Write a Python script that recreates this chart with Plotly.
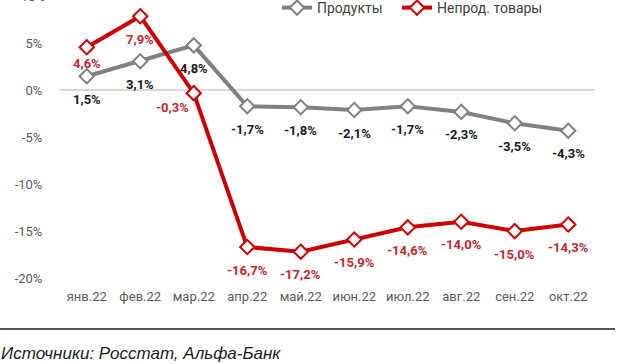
import plotly.graph_objects as go

categories = ["янв.22", "фев.22", "мар.22", "апр.22", "май.22", "июн.22", "июл.22", "авг.22", "сен.22", "окт.22"]
food = [1.5, 3.1, 4.8, -1.7, -1.8, -2.1, -1.7, -2.3, -3.5, -4.3]
nonfood = [4.6, 7.9, -0.3, -16.7, -17.2, -15.9, -14.6, -14.0, -15.0, -14.3]
tick_vals = [-20, -15, -10, -5, 0, 5]
tick_text = ["-20%", "-15%", "-10%", "-5%", "0%", "5%"]
series_names = ["Продукты", "Непрод. товары"]
source_text = "Источники: Росстат, Альфа-Банк"

W, H = 620, 364
ML, MR, MT, MB = 60, 25, 0, 86
PW, PH = W - ML - MR, H - MT - MB

def px_x(x):
    return (x - ML) / PW

def px_y(y):
    return (MT + PH - y) / PH

def fmt(v):
    return ("%.1f%%" % v).replace(".", ",")

GRAY = "#808080"
RED = "#cc0000"
FONT = "Roboto"

fig = go.Figure()
fig.add_trace(go.Scatter(
    x=categories, y=food, name=series_names[0], mode="lines+markers", legend="legend",
    line=dict(color=GRAY, width=4),
    marker=dict(symbol="diamond", size=11, color="white", line=dict(color=GRAY, width=2)),
))
fig.add_trace(go.Scatter(
    x=categories, y=nonfood, name=series_names[1], mode="lines+markers", legend="legend2",
    line=dict(color=RED, width=4),
    marker=dict(symbol="diamond", size=11, color="white", line=dict(color=RED, width=2)),
))

annotations = []
for c, v in zip(categories, food):
    annotations.append(dict(x=c, y=v, text="<b>%s</b>" % fmt(v), showarrow=False,
                            yshift=-23, font=dict(family=FONT, size=13, color="#1a1a1a")))
red_shift = {0: (0, -16), 2: (-21, -14)}
for i, (c, v) in enumerate(zip(categories, nonfood)):
    xs, ys = red_shift.get(i, (0, -23))
    annotations.append(dict(x=c, y=v, text="<b>%s</b>" % fmt(v), showarrow=False,
                            xshift=xs, yshift=ys, font=dict(family=FONT, size=13, color="#c0282d")))

# partially visible top tick label (cut by the top edge, as in the source image)
annotations.append(dict(xref="paper", yref="paper", x=px_x(47), y=px_y(-4), text="10%",
                        showarrow=False, xanchor="right", yanchor="middle",
                        font=dict(family=FONT, size=13, color="#595959")))
annotations.append(dict(xref="paper", yref="paper", x=px_x(-1), y=px_y(353),
                        text="<i>%s</i>" % source_text,
                        showarrow=False, xanchor="left", yanchor="middle",
                        font=dict(family="Liberation Sans", size=17, color="#1a1a1a")))

legend_common = dict(orientation="h", xref="paper", yref="paper", y=px_y(-8),
                     xanchor="left", yanchor="top",
                     font=dict(family=FONT, size=14, color="#404040"),
                     bgcolor="rgba(0,0,0,0)", itemwidth=30)

fig.update_layout(
    width=W, height=H,
    margin=dict(l=ML, r=MR, t=MT, b=MB, pad=0, autoexpand=False),
    paper_bgcolor="white", plot_bgcolor="white",
    showlegend=True,
    legend=dict(x=px_x(277), **legend_common),
    legend2=dict(x=px_x(397), **legend_common),
    xaxis=dict(type="category", range=[-0.5, 9.5], showgrid=False, showline=False,
               zeroline=False, ticks="outside", ticklen=6, tickcolor="rgba(0,0,0,0)",
               tickfont=dict(family=FONT, size=13, color="#595959")),
    yaxis=dict(range=[-20, 9.63], tickvals=tick_vals, ticktext=tick_text,
               showgrid=False, showline=False, zeroline=True, zerolinecolor="#d9d9d9",
               zerolinewidth=1.5, ticks="outside", ticklen=14, tickcolor="rgba(0,0,0,0)",
               tickfont=dict(family=FONT, size=13, color="#595959")),
    annotations=annotations,
    shapes=[dict(type="line", xref="paper", yref="paper", x0=px_x(0), x1=px_x(615),
                 y0=px_y(329), y1=px_y(329), line=dict(color="#555555", width=2))],
)

fig.write_html("out.html", config={"displayModeBar": False},
               post_script="document.body.style.margin='0px';")
